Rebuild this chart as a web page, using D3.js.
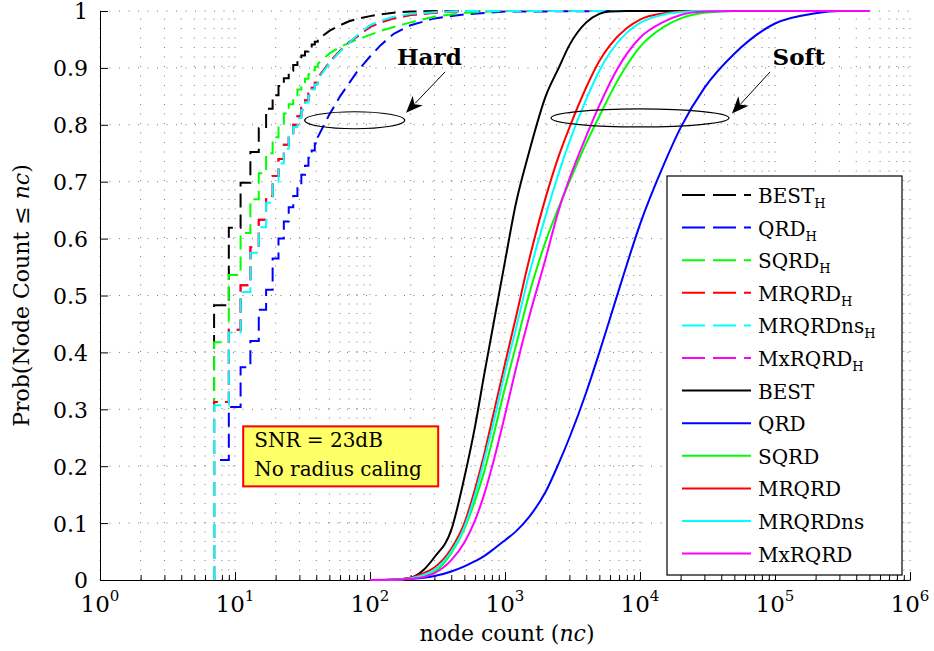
<!DOCTYPE html>
<html><head><meta charset="utf-8">
<script src="https://cdn.jsdelivr.net/npm/d3@7"></script>
<style>
body{margin:0;background:#fff}
svg{display:block}
text{font-family:"DejaVu Serif",serif;fill:#000}
</style>
</head><body>
<svg id="chart" width="934" height="651"></svg>
<script>
// ---------------- DATA ----------------
const seriesNames  = ["BEST","QRD","SQRD","MRQRD","MRQRDns","MxRQRD"];
const seriesColors = ["#000000","#0000ff","#00ff00","#ff0000","#00ffff","#ff00ff"];

// Hard-decision node counts (empirical CDF, steps at odd counts)
const hardN = [7,9,11,13,15,17,19,21,23,25,27,29,31,33,35,37,39,41,45,50,60,70,80,100,120,150,200,300,500,1000,10000];
const hardBEST    = [0.483,0.619,0.698,0.752,0.794,0.828,0.852,0.868,0.882,0.895,0.905,0.915,0.922,0.929,0.935,0.941,0.946,0.950,0.957,0.965,0.975,0.982,0.986,0.991,0.994,0.997,0.999,1,1,1,1];
const hardQRD     = [0.211,0.304,0.374,0.420,0.475,0.510,0.565,0.600,0.630,0.655,0.675,0.695,0.712,0.728,0.742,0.755,0.767,0.778,0.797,0.818,0.850,0.873,0.893,0.920,0.940,0.960,0.975,0.987,0.994,0.999,1];
const hardSQRD    = [0.418,0.536,0.610,0.669,0.715,0.750,0.778,0.800,0.820,0.836,0.850,0.862,0.872,0.881,0.889,0.896,0.902,0.907,0.916,0.925,0.937,0.944,0.950,0.958,0.965,0.972,0.980,0.990,0.997,1,1];
const hardMRQRD   = [0.313,0.440,0.518,0.585,0.633,0.675,0.710,0.740,0.765,0.785,0.800,0.815,0.830,0.843,0.855,0.865,0.874,0.882,0.895,0.910,0.930,0.945,0.955,0.972,0.980,0.987,0.993,0.997,1,1,1];
const hardMRQRDns = [0.307,0.435,0.506,0.575,0.620,0.663,0.700,0.732,0.758,0.779,0.796,0.812,0.826,0.839,0.851,0.862,0.871,0.879,0.893,0.908,0.929,0.944,0.957,0.975,0.983,0.990,0.995,0.998,1,1,1];
const hardMxRQRD  = [0.313,0.440,0.518,0.585,0.633,0.675,0.710,0.740,0.765,0.785,0.800,0.815,0.830,0.843,0.855,0.865,0.874,0.882,0.895,0.910,0.930,0.945,0.955,0.972,0.980,0.987,0.993,0.997,1,1,1];
const hardStepMax = 41; // beyond this count the CDF is drawn as a smooth line

// Soft-output node counts
const softN = [100,150,200,250,300,400,500,600,700,800,1000,1200,1500,2000,2500,3000,4000,5000,6000,8000,10000,15000,20000,30000,50000,100000,200000,300000,500000];
const softBEST    = [0,0.0005,0.004,0.018,0.040,0.088,0.180,0.270,0.360,0.435,0.560,0.660,0.750,0.850,0.900,0.940,0.980,0.995,0.999,1,1,1,1,1,1,1,1,1,1];
const softQRD     = [0,0.0005,0.002,0.004,0.007,0.015,0.024,0.033,0.042,0.052,0.070,0.085,0.110,0.155,0.205,0.250,0.330,0.400,0.460,0.555,0.625,0.730,0.795,0.865,0.925,0.978,0.996,1,1];
const softSQRD    = [0,0.0005,0.003,0.007,0.014,0.047,0.090,0.140,0.190,0.243,0.338,0.410,0.500,0.595,0.655,0.700,0.768,0.815,0.853,0.905,0.937,0.972,0.987,0.997,1,1,1,1,1];
const softMRQRD   = [0,0.0005,0.004,0.012,0.022,0.055,0.100,0.160,0.220,0.280,0.380,0.460,0.560,0.672,0.745,0.795,0.866,0.912,0.940,0.970,0.985,0.996,0.999,1,1,1,1,1,1];
const softMRQRDns = [0,0.0003,0.003,0.009,0.018,0.050,0.093,0.150,0.210,0.265,0.365,0.440,0.535,0.640,0.715,0.770,0.845,0.895,0.927,0.962,0.979,0.994,0.998,1,1,1,1,1,1];
const softMxRQRD  = [0,0.0003,0.002,0.005,0.012,0.035,0.066,0.105,0.150,0.198,0.290,0.370,0.460,0.565,0.650,0.705,0.780,0.834,0.874,0.925,0.953,0.981,0.993,0.999,1,1,1,1,1];

const xMajor = [1,10,100,1000,10000,100000,1000000];
const yTicks = [0,0.1,0.2,0.3,0.4,0.5,0.6,0.7,0.8,0.9,1];
const infoLines = ["SNR = 23dB","No radius caling"];

// ---------------- SETUP ----------------
const FONT = '"DejaVu Serif", serif';
const svg = d3.select("#chart");
const L = 100, R = 910, T = 11, B = 580;
const x = d3.scaleLog().domain([1,1e6]).range([L,R]);
const y = d3.scaleLinear().domain([0,1]).range([B,T]);

const xMinor = [];
for (let k=0;k<6;k++) for (let m=2;m<=9;m++) xMinor.push(m*Math.pow(10,k));

// grid
const grid = svg.append("g").attr("stroke","#444").attr("stroke-width",1).attr("stroke-dasharray","1,8.5").attr("fill","none").attr("opacity",0.7);
xMajor.concat(xMinor).forEach(v=>{
  grid.append("line").attr("x1",x(v)).attr("x2",x(v)).attr("y1",B).attr("y2",T);
});
yTicks.filter(v=>v>0).forEach(v=>{
  grid.append("line").attr("x1",L).attr("x2",R).attr("y1",y(v)).attr("y2",y(v));
});

// axes
const xAxisMajor = d3.axisBottom(x).tickValues(xMajor).tickSizeInner(-8).tickSizeOuter(0).tickFormat("");
const xAxisMinor = d3.axisBottom(x).tickValues(xMinor).tickSizeInner(-5).tickSizeOuter(0).tickFormat("");
svg.append("g").attr("transform",`translate(0,${B})`).call(xAxisMajor);
svg.append("g").attr("transform",`translate(0,${B})`).call(xAxisMinor).select(".domain").remove();
const gy = svg.append("g").attr("transform",`translate(${L},0)`)
  .call(d3.axisLeft(y).tickValues(yTicks).tickSizeInner(-8).tickSizeOuter(0).tickPadding(12)
  .tickFormat(d=> d===0?"0":(d===1?"1":d.toFixed(1))));
gy.attr("font-family",FONT).attr("font-size",22);
gy.selectAll("text").attr("dy","0.36em");
svg.selectAll(".domain").attr("stroke","#000");
svg.selectAll(".tick line").attr("stroke","#000");

// x tick labels 10^k
xMajor.forEach((v,i)=>{
  const t = svg.append("text").attr("x",x(v)).attr("y",612).attr("text-anchor","middle").attr("font-size",23);
  t.append("tspan").text("10");
  t.append("tspan").attr("font-size",15).attr("dy",-11).text(String(i));
});

// axis labels
const xl = svg.append("text").attr("x",(L+R)/2+2).attr("y",641).attr("text-anchor","middle").attr("font-size",22);
xl.append("tspan").text("node count (");
xl.append("tspan").attr("font-style","italic").text("nc");
xl.append("tspan").text(")");
const yl = svg.append("text").attr("transform",`translate(29,${(T+B)/2}) rotate(-90)`).attr("text-anchor","middle").attr("font-size",22);
yl.append("tspan").text("Prob(Node Count ≤ ");
yl.append("tspan").attr("font-style","italic").text("nc");
yl.append("tspan").text(")");

// ---------------- CURVES ----------------
const hardSeries = [hardBEST,hardQRD,hardSQRD,hardMRQRD,hardMRQRDns,hardMxRQRD];
const softSeries = [softBEST,softQRD,softSQRD,softMRQRD,softMRQRDns,softMxRQRD];

function hardPoints(vals){
  const pts = [[hardN[0],0]];
  for (let i=0;i<hardN.length;i++){
    const n = hardN[i];
    if (i>0 && n<=hardStepMax) pts.push([n, vals[i-1]]);
    pts.push([n, vals[i]]);
  }
  return pts;
}
const lineLin = d3.line().x(d=>x(d[0])).y(d=>y(d[1]));
const lineSoft = d3.line().x(d=>x(d[0])).y(d=>y(d[1])).curve(d3.curveMonotoneX);

const plot = svg.append("g").attr("fill","none").attr("stroke-width",2);
// hard order: magenta hidden beneath the red one
[0,1,2,5,3,4].forEach(i=>{
  plot.append("path").attr("d",lineLin(hardPoints(hardSeries[i])))
    .attr("stroke",seriesColors[i]).attr("stroke-dasharray","14,7");
});
[0,1,2,3,4,5].forEach(i=>{
  plot.append("path").attr("d",lineSoft(softN.map((n,j)=>[n,softSeries[i][j]])))
    .attr("stroke",seriesColors[i]);
});

// ---------------- ANNOTATIONS ----------------
function arrow(x1,y1,x2,y2){
  const g = svg.append("g");
  const ang = Math.atan2(y2-y1,x2-x1);
  const len = 17, w = 7;
  const bx = x2 - len*Math.cos(ang), by = y2 - len*Math.sin(ang);
  g.append("line").attr("x1",x1).attr("y1",y1).attr("x2",bx+4*Math.cos(ang)).attr("y2",by+4*Math.sin(ang)).attr("stroke","#000").attr("stroke-width",1);
  const px = -Math.sin(ang), py = Math.cos(ang);
  const nx = x2 - (len-5)*Math.cos(ang), ny = y2 - (len-5)*Math.sin(ang);
  g.append("path").attr("d",`M${x2},${y2}L${bx+w*px},${by+w*py}L${nx},${ny}L${bx-w*px},${by-w*py}Z`).attr("fill","#000");
}
svg.append("ellipse").attr("cx",x(77)).attr("cy",y(0.808)).attr("rx",50).attr("ry",8.5).attr("fill","none").attr("stroke","#000").attr("stroke-width",1.2);
svg.append("ellipse").attr("cx",x(10000)).attr("cy",y(0.812)).attr("rx",89).attr("ry",9).attr("fill","none").attr("stroke","#000").attr("stroke-width",1.2);
svg.append("text").attr("x",x(275)).attr("y",y(0.905)).attr("text-anchor","middle").attr("font-weight","bold").attr("font-size",23).text("Hard");
svg.append("text").attr("x",x(150000)).attr("y",y(0.905)).attr("text-anchor","middle").attr("font-weight","bold").attr("font-size",23).text("Soft");
arrow(x(360),y(0.893),x(185),y(0.821));
arrow(x(92000),y(0.893),x(48000),y(0.82));

// info box
const bx0 = x(11.5), by0 = y(0.27);
svg.append("rect").attr("x",bx0).attr("y",by0).attr("width",195).attr("height",60)
  .attr("fill","#ffff66").attr("stroke","#ff0000").attr("stroke-width",2);
infoLines.forEach((s,i)=>{
  svg.append("text").attr("x",bx0+11).attr("y",by0+21+i*28.5).attr("font-size",20).text(s);
});

// ---------------- LEGEND ----------------
const lg = svg.append("g");
lg.append("rect").attr("x",667).attr("y",176).attr("width",235).attr("height",399)
  .attr("fill","#fff").attr("stroke","#000").attr("stroke-width",1.2);
const legendItems = [];
seriesNames.forEach((n,i)=>legendItems.push({name:n, sub:"H", color:seriesColors[i], dashed:true}));
seriesNames.forEach((n,i)=>legendItems.push({name:n, sub:"", color:seriesColors[i], dashed:false}));
legendItems.forEach((d,i)=>{
  const yy = 195 + i*32.6;
  lg.append("line").attr("x1",682).attr("x2",751).attr("y1",yy).attr("y2",yy)
    .attr("stroke",d.color).attr("stroke-width",2).attr("stroke-dasharray",d.dashed?"23,8":null);
  const t = lg.append("text").attr("x",758).attr("y",yy+8).attr("font-size",20);
  t.append("tspan").text(d.name);
  if (d.sub) t.append("tspan").attr("font-size",13).attr("dy",5).text(d.sub);
});
</script>
</body></html>
